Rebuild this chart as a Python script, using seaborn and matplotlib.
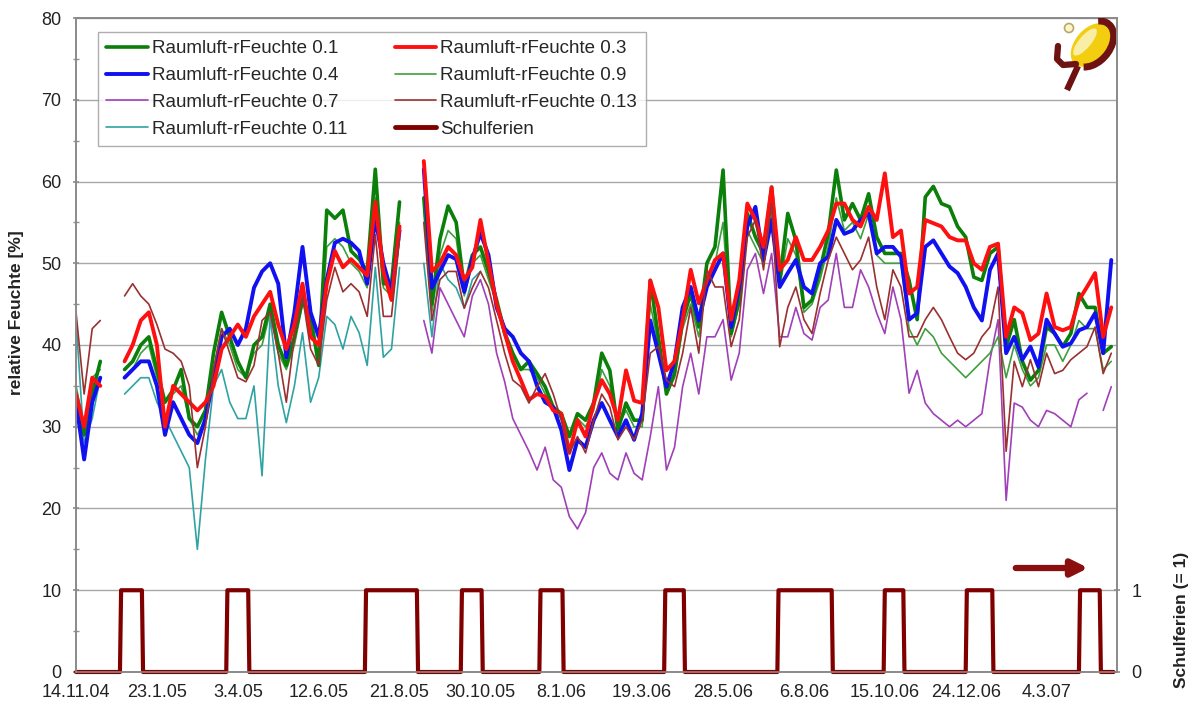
import numpy as np
import pandas as pd
import matplotlib
matplotlib.use('Agg')
import matplotlib.pyplot as plt
import matplotlib.patches as mpatches
from matplotlib.lines import Line2D
import seaborn as sns

# weekly readings starting 14.11.04 (nan = no data)
start = '2004-11-14'
n_weeks = 129
nan = np.nan

rf_01 = [34, 29, 34, 38, nan, nan, 37, 38, 40, 41,
         37, 33, 34.5, 37, 31, 30, 32, 39, 44, 41,
         38, 36, 40, 41, 45, 40, 37.5, 41, 45.5, 43.5,
         37.5, 56.5, 55.5, 56.5, 51.5, 50.5, 49, 61.5, 47.5, 47.5,
         57.5, nan, nan, 58, 45, 53, 57, 55, 47, 51,
         52, 49, 45.5, 41.5, 39, 37, 38, 36.5, 34.9, 32.4,
         31.6, 28.8, 31.6, 30.8, 32.9, 39, 36.9, 29.6, 32.9, 30.8,
         30.8, 47.9, 41, 34, 36.5, 43, 46.3, 42.2, 50, 52,
         61.4, 41.4, 45.5, 56.1, 53.2, 51.2, 59.3, 47.9, 56.1, 52.8,
         44.6, 45.5, 49.2, 53.6, 61.4, 55.3, 57.3, 55.3, 58.5, 53.2,
         51.2, 51.2, 51.2, 47.9, 43.1, 58.1, 59.4, 57.3, 56.9, 54.5,
         53.2, 48.3, 47.9, 51.2, 52, 39.8, 43.1, 38, 35.7, 36.9,
         42.2, 41.4, 39.8, 41.4, 46.3, 44.6, 44.6, 39, 39.8]

rf_03 = [34, 30, 36, 35, nan, nan, 38, 40, 43, 44,
         40, 30, 35, 34, 33, 32, 33, 35, 39.5, 41,
         42.5, 41, 43.5, 45, 46.5, 42.5, 39.5, 42.5, 47.5, 41,
         40, 47.5, 51.5, 49.5, 50.5, 49.5, 48.5, 57.5, 49, 45.5,
         54.5, nan, nan, 62.5, 49, 50, 52, 51, 48, 49.5,
         55.3, 50, 45, 41.5, 38, 35.7, 33.3, 34, 33.7, 32,
         31.6, 26.8, 30.8, 28.8, 32.9, 35.7, 34, 30.8, 36.9, 33.2,
         32.9, 47.9, 44.6, 36.9, 38, 43, 49.2, 45.1, 47.9, 50.4,
         51.2, 43.1, 47.9, 57.3, 55.3, 52, 59.3, 49.2, 50.4, 53.2,
         50.4, 50.4, 52, 54, 57.3, 57.3, 55.3, 54.5, 56.9, 55.3,
         61, 53.2, 54, 46.3, 47.1, 55.3, 54.9, 54.5, 53.2, 52.8,
         52.8, 50, 49.2, 52, 52.4, 41, 44.6, 43.9, 40.6, 41.4,
         46.3, 42.2, 41.8, 42.2, 45.5, 47.1, 48.8, 41, 44.6]

rf_04 = [33, 26, 33, 36, nan, nan, 36, 37, 38, 38,
         35, 29, 33, 31, 29, 28, 31, 36, 41, 42,
         40, 42, 47, 49, 50, 47.5, 38.5, 44, 52, 44,
         41, 48, 52.5, 53, 52.5, 51.5, 47.5, 55.5, 50, 46.5,
         54, nan, nan, 61.5, 47, 49, 51, 50.5, 46.5, 50.5,
         53.7, 51, 44.6, 42, 41, 39, 38, 35, 33, 32.4,
         29.6, 24.7, 28.4, 27.5, 30.8, 32.9, 30.8, 28.8, 30.8, 28.4,
         31.6, 43, 39, 34.9, 38, 44.6, 47.1, 43, 47.1, 49.2,
         51.2, 42.2, 47.1, 54.5, 56.9, 50.4, 55.3, 47.1, 48.8, 50.4,
         47.1, 46.3, 50, 50.8, 55.3, 53.6, 54, 55.3, 56.1, 51.2,
         52, 52, 50.8, 43.1, 43.9, 52, 52.8, 51.2, 49.6, 48.8,
         47.1, 44.6, 43, 49.2, 51.2, 39, 41, 38.2, 39.8, 37.3,
         43.1, 41.4, 39.8, 40.2, 41.8, 42.2, 43.9, 39, 50.4]

rf_09 = [35, 30, 36, 37, nan, nan, 36, 37, 39, 40,
         36, 33, 34, 35, 31, 29, 31, 37, 42, 40,
         37, 36, 39, 40, 44, 39, 37, 40, 45, 43,
         38, 52, 53, 52, 50, 49, 47, 58, 47, 46,
         55, nan, nan, 57, 44, 51, 54, 53, 46, 50,
         51, 48, 45, 41, 39, 37, 37, 36, 34, 32,
         31, 29, 31, 30, 32, 37, 35, 30, 32, 30,
         30, 45, 40, 34, 36, 42, 45, 41, 48, 50,
         55, 41, 45, 54, 52, 50, 56, 47, 53, 51,
         44, 45, 48, 52, 58, 54, 55, 53, 56, 51,
         50, 50, 50, 42, 40, 42, 41, 39, 38, 37,
         36, 37, 38, 39, 41, 36, 40, 37, 35, 36,
         40, 40, 38, 40, 43, 42, 42, 37, 38]

rf_07 = [nan] * 43 + [
    43, 39, 47, 45, 43, 41, 46,
    48, 45, 39, 35.5, 31, 29, 27, 24.7, 27.5, 23.5,
    22.6, 19, 17.5, 19.5, 25, 26.8, 24.3, 23.5, 26.8, 24.3,
    23.5, 28.8, 34.9, 24.7, 27.5, 34.9, 39, 34, 41, 41,
    43.1, 35.7, 39, 49.2, 51.2, 46.3, 51.2, 41, 41, 44.6,
    41.4, 40.6, 44.6, 45.5, 51.2, 44.6, 44.6, 49.2, 47.1, 43.9,
    41.4, 47.1, 43.1, 34.1, 36.9, 32.9, 31.6, 30.8, 30, 30.8,
    30, 30.8, 31.6, 38.2, 43.1, 21, 32.9, 32.4, 30.8, 30,
    32, 31.6, 30.8, 30, 33.3, 34.1, nan, 32, 34.9]

rf_013 = [44, 34, 42, 43, nan, nan, 46, 47.5, 46, 45,
          42.5, 39.5, 39, 38, 35, 25, 30, 37, 42, 39,
          36, 35.5, 37.5, 43, 44, 39, 33, 41, 46, 39.5,
          37.5, 45.5, 49.5, 46.5, 47.5, 46.5, 43.5, 53.5, 43.5, 43.5,
          53, nan, nan, 55, 43, 48, 49, 49, 44.5, 47,
          49, 47, 43, 39, 35.7, 34.9, 32.9, 34.9, 36.5, 34,
          30.8, 26.8, 28.8, 26.8, 30.8, 34, 32.4, 28.4, 30, 28.4,
          30.8, 39, 39.8, 35.7, 34.9, 39, 44.6, 39, 49.2, 47.1,
          47.1, 39.8, 43.1, 53.2, 55.3, 49.2, 57.3, 39.8, 44.6, 47.1,
          43.1, 41.4, 46.3, 50.4, 53.2, 51.2, 49.2, 50.4, 53.2, 47.1,
          43.1, 49.2, 47.1, 41, 41, 43.1, 44.6, 43.1, 41, 39,
          38.2, 39, 41, 42.2, 47.1, 27, 38, 34.9, 38.2, 34.9,
          39, 36.5, 36.9, 38.2, 39, 39.8, 42.2, 36.5, 39]

rf_011 = [43, 28, 31, 36, nan, nan, 34, 35, 36, 36,
          33, 31, 29, 27, 25, 15, 26, 35, 37, 33,
          31, 31, 35, 24, 43.5, 35, 30.5, 35, 41.5, 33,
          36, 43.5, 42.5, 39.5, 43.5, 41.5, 37.5, 49.5, 38.5, 39.5,
          49.5, nan, nan, 50, 41, 50, 48, 47, 44.5, 48,
          49] + [nan] * 78

# school holidays (Schulferien = 1)
ferien_start = ['2004-12-23', '2005-03-25', '2005-07-23', '2005-10-14', '2005-12-21',
                '2006-04-08', '2006-07-15', '2006-10-15', '2006-12-25', '2007-04-02']
ferien_end = ['2005-01-10', '2005-04-12', '2005-09-05', '2005-10-31', '2006-01-09',
              '2006-04-24', '2006-08-30', '2006-10-31', '2007-01-16', '2007-04-19']
ferien_last_day = '2007-05-01'

tick_labels = ['14.11.04', '23.1.05', '3.4.05', '12.6.05', '21.8.05', '30.10.05', '8.1.06',
               '19.3.06', '28.5.06', '6.8.06', '15.10.06', '24.12.06', '4.3.07']

names = ['Raumluft-rFeuchte 0.1', 'Raumluft-rFeuchte 0.3', 'Raumluft-rFeuchte 0.4',
         'Raumluft-rFeuchte 0.9', 'Raumluft-rFeuchte 0.7', 'Raumluft-rFeuchte 0.13',
         'Raumluft-rFeuchte 0.11']
series = [rf_01, rf_03, rf_04, rf_09, rf_07, rf_013, rf_011]
colors = ['#0a7f0a', '#ff1010', '#1010f0', '#3f9f3f', '#a040b8', '#9a3030', '#2fa3a3']
widths = [2.6, 2.8, 2.8, 1.2, 1.2, 1.2, 1.2]
draw_order = [6, 4, 3, 0, 2, 1, 5]
ferien_color = '#800000'

dates = pd.date_range(start, periods=n_weeks, freq='7D')
days = pd.date_range(start, ferien_last_day, freq='D')
ferien = np.zeros(len(days))
for s, e in zip(ferien_start, ferien_end):
    ferien[(days >= s) & (days <= e)] = 1

sns.set_theme(style='white')
plt.rcParams['font.family'] = ['Liberation Sans', 'DejaVu Sans']

fig = plt.figure(figsize=(11.9, 7.09), dpi=100)
ax = fig.add_axes([0.0639, 0.0522, 0.8748, 0.9224])

for k in draw_order:
    df = pd.DataFrame({'date': dates, 'val': series[k]})
    df['seg'] = df['val'].isna().cumsum()
    df = df.dropna()
    sns.lineplot(data=df, x='date', y='val', units='seg', estimator=None,
                 color=colors[k], lw=widths[k], ax=ax, legend=False)

ax.set_xlim(pd.Timestamp(start), pd.Timestamp('2007-05-04'))
ax.set_ylim(0, 80)
ax.set_yticks(range(0, 81, 10))
ax.set_yticks(range(5, 80, 10), minor=True)
ax.grid(axis='y', which='major', color='#a8a8a8', lw=1)
ax.set_axisbelow(True)
tick_pos = pd.to_datetime(tick_labels, format='%d.%m.%y')
ax.set_xticks(tick_pos)
ax.set_xticklabels(tick_labels)
ax.tick_params(axis='x', labelsize=13, length=4, color='#909090', pad=5, labelcolor='#222222')
ax.tick_params(axis='y', which='major', labelsize=13, length=5, color='#909090',
               labelcolor='#222222', direction='inout', pad=8)
ax.tick_params(axis='y', which='minor', length=5, color='#909090', direction='inout', left=True)
ax.set_xlabel('')
ax.set_ylabel('relative Feuchte [%]', fontsize=12.5, fontweight='bold', color='#222222')
ax.yaxis.set_label_coords(-0.05, 0.55)

ax2 = ax.twinx()
sns.lineplot(x=days, y=ferien, ax=ax2, color=ferien_color, lw=3, legend=False)
for ln in ax2.lines:
    ln.set_clip_on(False)
ax2.set_ylim(0, 8)
ax2.set_yticks([0, 1])
ax2.tick_params(axis='y', labelsize=13, length=5, color='#909090', labelcolor='#222222',
                direction='inout', pad=8)
ax2.set_ylabel('Schulferien (= 1)', fontsize=12.5, fontweight='bold', color='#222222')
ax2.yaxis.set_label_coords(1.055, 0.08)
ax2.set_xlim(ax.get_xlim())

for a in (ax, ax2):
    for sp in a.spines.values():
        sp.set_color('#8a8a8a')
        sp.set_linewidth(1.2)

# arrow
ax2.annotate('', xy=(0.975, 0.159), xytext=(0.90, 0.159), xycoords='axes fraction',
             arrowprops=dict(arrowstyle='-|>', color='#8b0f0f', lw=4.5, mutation_scale=24))

# legend (row-wise order as in the original)
handles = {n: Line2D([], [], color=c, lw=w) for n, c, w in zip(names, colors, widths)}
handles['Schulferien'] = Line2D([], [], color=ferien_color, lw=3.5)
col1 = [names[0], names[2], names[4], names[6]]
col2 = [names[1], names[3], names[5], 'Schulferien']
order = col1 + col2
leg = ax2.legend([handles[n] for n in order], order, loc='upper left',
                 bbox_to_anchor=(0.021, 0.979), ncol=2, fontsize=13.5, frameon=True,
                 fancybox=False, edgecolor='#9a9a9a', borderaxespad=0, handlelength=2.2,
                 handletextpad=0.25, labelspacing=0.52, columnspacing=2.5, borderpad=0.45)
leg.get_frame().set_linewidth(1.0)

# logo in the upper right corner
lax = fig.add_axes([1050 / 1190, (709 - 94) / 709, 66 / 1190, 76 / 709])
lax.set_xlim(0, 66)
lax.set_ylim(0, 76)
lax.axis('off')
lax.add_patch(mpatches.Ellipse((41, 49), 32, 50, angle=-40, facecolor='#f2cd10', edgecolor='none'))
lax.add_patch(mpatches.Ellipse((35, 52), 12, 34, angle=-40, facecolor='#f9eea6', edgecolor='none'))
lax.add_patch(mpatches.Arc((42, 50), 36, 52, angle=-40, theta1=-70, theta2=115,
                           color='#6e1212', lw=5))
lax.plot([8, 7, 13, 26], [48, 35, 29, 30], color='#6e1212', lw=4.5, solid_capstyle='round')
lax.plot([28, 17], [28, 4], color='#6e1212', lw=4.5, solid_capstyle='butt')
lax.add_patch(mpatches.Circle((19, 66), 4.5, facecolor='#fff6c8', edgecolor='#b8a868', lw=1.2))

fig.savefig('out.png', dpi=100)
